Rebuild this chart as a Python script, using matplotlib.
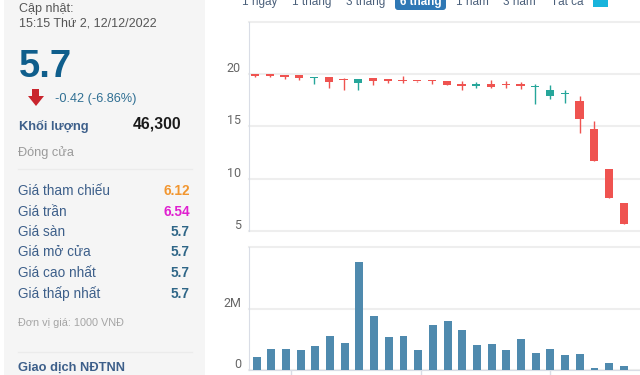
import matplotlib
matplotlib.use('Agg')
import matplotlib.pyplot as plt
from matplotlib.patches import Rectangle, FancyBboxPatch, Polygon

plt.rcParams['font.family'] = ['Liberation Sans', 'DejaVu Sans']

W, H = 640, 375

# candles
tops = [19.98, 19.92, 19.89, 19.89, 19.73, 19.73, 19.47, 19.54, 19.60, 19.54, 19.41, 19.38, 19.44,
        19.38, 18.96, 19.03, 19.09, 19.00, 18.96, 18.87, 18.52, 18.20, 17.46, 14.76, 10.96, 7.67]
bottoms = [19.82, 19.86, 19.73, 19.66, 19.63, 19.28, 19.41, 19.12, 19.35, 19.38, 19.31, 19.31, 19.35,
           19.00, 18.90, 18.90, 18.80, 18.93, 18.90, 18.77, 17.94, 18.10, 15.71, 11.66, 8.18, 5.70]
highs = [19.98, 19.92, 19.89, 19.89, 19.73, 19.73, 19.66, 19.54, 19.60, 19.54, 19.79, 19.38, 19.44,
         19.38, 19.38, 19.22, 19.47, 19.35, 19.25, 19.06, 18.96, 18.52, 17.94, 15.48, 10.96, 7.67]
lows = [19.76, 19.73, 19.57, 19.47, 19.03, 18.71, 18.45, 18.45, 19.00, 19.15, 19.15, 19.28, 19.06,
        19.00, 18.52, 18.64, 18.71, 18.71, 18.58, 17.15, 17.59, 17.21, 14.37, 11.66, 8.18, 5.70]
up = [0, 0, 0, 0, 1, 0, 0, 1, 0, 0, 0, 0, 0, 0, 0, 1, 0, 0, 0, 1, 1, 1, 0, 0, 0, 0]

volumes = [0.42, 0.67, 0.67, 0.65, 0.77, 1.10, 0.87, 3.57, 1.77, 1.07, 1.10, 0.65, 1.47,
           1.62, 1.30, 0.80, 0.84, 0.65, 1.00, 0.55, 0.67, 0.48, 0.52, 0.066, 0.22, 0.10]
vol_ticks = [2.33, 11.2, 20.0]

price_ticks = [5, 10, 15, 20, 25]
ranges = ['1 ngày', '1 tháng', '3 tháng', '6 tháng', '1 năm', '3 năm', 'Tất cả']
range_x = [260, 312, 366, 421, 472, 519, 567]

rows = ['Giá tham chiếu', 'Giá trần', 'Giá sàn', 'Giá mở cửa', 'Giá cao nhất', 'Giá thấp nhất']
row_vals = ['6.12', '6.54', '5.7', '5.7', '5.7', '5.7']
row_cols = ['#f2962f', '#e020d0', '#2f6687', '#2f6687', '#2f6687', '#2f6687']
row_y = [191, 211.5, 232, 252.5, 273, 293.5]

RED = '#ef5350'
GREEN = '#26a69a'
BLUE = '#4f8aae'
GRID = '#eeeeee'
AXIS = '#d9dde6'
LABEL = '#3d5f8a'


def box(left, top, right, bottom):
    return [left / W, 1 - bottom / H, (right - left) / W, (bottom - top) / H]


fig = plt.figure(figsize=(W / 100, H / 100), dpi=100, facecolor='white')

# whole figure in pixel coordinates, y going down
bg = fig.add_axes([0, 0, 1, 1])
bg.set_xlim(0, W)
bg.set_ylim(H, 0)
bg.axis('off')

bg.add_patch(Rectangle((4, -2), 201, H + 4, color='#f5f5f5', lw=0))
bg.plot([18, 192], [169, 169], color='#ebebeb', lw=1)
bg.plot([18, 192], [351.5, 351.5], color='#ebebeb', lw=1)

bg.text(19, 9, 'Cập nhật:', fontsize=9, color='#555555', va='center')
bg.text(19, 23.5, '15:15 Thứ 2, 12/12/2022', fontsize=9, color='#555555', va='center')
bg.text(19, 67, '5.7', fontsize=27.5, fontweight='bold', color='#0f5e8c', va='center')
bg.text(55, 99, '-0.42 (-6.86%)', fontsize=9.2, color='#2f6f93', va='center')
bg.add_patch(Polygon([[32, 89], [39, 89], [39, 96], [44, 96], [36, 106], [28, 96], [32, 96]],
                     color='#c9252d', lw=0))
bg.text(19, 126, 'Khối lượng', fontsize=9.3, fontweight='bold', color=LABEL, va='center')
bg.text(181, 124, '46,300', fontsize=11.3, fontweight='bold', color='#1a1a1a', va='center', ha='right')
bg.text(18, 153, 'Đóng cửa', fontsize=9.2, color='#9a9a9a', va='center')

for name, val, col, y in zip(rows, row_vals, row_cols, row_y):
    bg.text(18, y, name, fontsize=9.8, color=LABEL, va='center')
    bg.text(190, y, val, fontsize=9.8, fontweight='bold', color=col, va='center', ha='right')

bg.text(18, 323, 'Đơn vị giá: 1000 VNĐ', fontsize=7.8, color='#a5a5a5', va='center')
bg.text(18, 367.5, 'Giao dịch NĐTNN', fontsize=9.3, fontweight='bold', color=LABEL, va='center')

# range buttons along the top edge
bg.add_patch(FancyBboxPatch((395, -8), 51, 18, boxstyle='round,pad=0,rounding_size=3',
                            color='#2f78b5', lw=0))
for name, x in zip(ranges, range_x):
    col = 'white' if name == '6 tháng' else '#4a5f7a'
    bg.text(x, 2, name, fontsize=8.5, color=col, va='center', ha='center',
            fontweight='bold' if name == '6 tháng' else 'normal')
bg.add_patch(Rectangle((593, -2), 15, 9, color='#18b4dc', lw=0))

# price panel
ax = fig.add_axes(box(249, 22, 640, 231))
ax.set_xlim(-0.41, 26.1)
ax.set_ylim(5, 25)
ax.patch.set_alpha(0)
for i in range(len(tops)):
    col = GREEN if up[i] else RED
    ax.vlines(i, lows[i], highs[i], color=col, lw=1, zorder=3)
    ax.bar(i, max(tops[i] - bottoms[i], 0.14), bottom=bottoms[i], width=0.56, color=col, lw=0, zorder=3)
ax.set_yticks(price_ticks)
ax.set_yticklabels([])
ax.set_xticks([])
ax.grid(axis='y', color=GRID, lw=1.5, clip_on=False)
ax.set_axisbelow(True)
for side in ['top', 'right', 'bottom']:
    ax.spines[side].set_visible(False)
ax.spines['left'].set_color(AXIS)
ax.tick_params(left=False)

for v in price_ticks[:-1]:
    ax.annotate(str(v), (0, v), xycoords=('axes fraction', 'data'), xytext=(-6, 4),
                textcoords='offset points', fontsize=9, color='#666666', ha='right', va='center',
                family='Roboto')

# volume panel
ax2 = fig.add_axes(box(249, 247, 640, 369.5))
ax2.set_xlim(-0.52, 26.1)
ax2.set_ylim(0, 4.05)
ax2.patch.set_alpha(0)
ax2.bar(range(len(volumes)), volumes, width=0.54, color=BLUE, lw=0, zorder=3)
ax2.set_yticks([0, 2, 4.05])
ax2.set_yticklabels([])
ax2.grid(axis='y', color=GRID, lw=1.5, clip_on=False)
ax2.set_axisbelow(True)
ax2.set_xticks(vol_ticks)
ax2.set_xticklabels([])
ax2.tick_params(axis='x', color=AXIS, length=5, width=1)
ax2.tick_params(axis='y', left=False)
for side in ['top', 'right']:
    ax2.spines[side].set_visible(False)
ax2.spines['left'].set_color(AXIS)
ax2.spines['bottom'].set_color(AXIS)

bg.text(241.5, 303.5, '2M', fontsize=9, color='#666666', ha='right', va='center', family='Roboto')
bg.text(241.5, 364, '0', fontsize=9, color='#666666', ha='right', va='center', family='Roboto')

fig.savefig('out.png', dpi=100)
